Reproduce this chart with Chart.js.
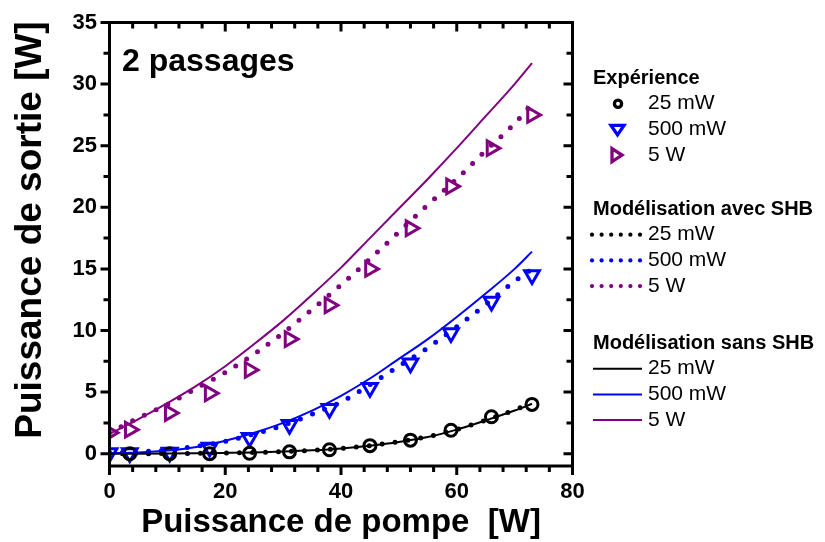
<!DOCTYPE html>
<html>
<head>
<meta charset="utf-8">
<script src="https://cdn.jsdelivr.net/npm/chart.js@4/dist/chart.umd.min.js"></script>
<style>
  body { margin: 0; background: #fff; }
  #wrap { width: 825px; height: 542px; }
</style>
</head>
<body>
<div id="wrap"><canvas id="myChart" width="825" height="542"></canvas></div>
<script>
// experimental points (pump power W -> output power W)
const xExp = [0, 3.5, 10.4, 17.3, 24.2, 31.1, 38, 45, 52, 59, 66, 73];
const exp25mW  = [null, 0.0, 0.0, 0.0, 0.03, 0.15, 0.32, 0.65, 1.1, 1.9, 3.0, 4.0];
const exp500mW = [0.05, 0.05, 0.1, 0.5, 1.3, 2.35, 3.65, 5.35, 7.35, 9.8, 12.35, 14.5];
const exp5W    = [1.7, 1.95, 3.3, 4.9, 6.8, 9.3, 12.05, 15.0, 18.3, 21.7, 24.8, 27.5];

// model curves
const xModel = [0, 5, 10, 15, 20, 25, 30, 35, 40, 45, 50, 55, 60, 65, 70, 73];
const avec25mW  = [0, 0, 0.01, 0.03, 0.06, 0.1, 0.17, 0.28, 0.43, 0.66, 0.97, 1.38, 1.97, 2.72, 3.55, 4.1];
const avec500mW = [0.1, 0.15, 0.3, 0.6, 1.0, 1.6, 2.3, 3.2, 4.2, 5.6, 7.1, 8.6, 10.3, 12.1, 14.0, 15.0];
const avec5W    = [1.7, 2.9, 4.0, 5.3, 6.6, 8.1, 9.8, 11.7, 13.7, 15.8, 18.0, 20.2, 22.3, 24.6, 26.8, 28.4];
const sans25mW  = [0, 0, 0.01, 0.03, 0.06, 0.1, 0.17, 0.27, 0.42, 0.65, 0.95, 1.35, 1.95, 2.7, 3.5, 4.05];
const sans500mW = [0.05, 0.1, 0.25, 0.55, 1.05, 1.7, 2.5, 3.5, 4.7, 6.1, 7.7, 9.3, 11.1, 13.0, 15.0, 16.4];
const sans5W    = [1.6, 2.8, 4.1, 5.5, 7.1, 8.9, 10.8, 12.9, 15.1, 17.5, 19.9, 22.3, 24.8, 27.4, 30.0, 31.7];

const xTicks = [0, 20, 40, 60, 80];
const yTicks = [0, 5, 10, 15, 20, 25, 30, 35];
const seriesNames = ['25 mW', '500 mW', '5 W'];
const groupTitles = ['Expérience', 'Modélisation avec SHB', 'Modélisation sans SHB'];
const colors = ['#000000', '#0000ff', '#800080'];

function pts(xs, ys) {
  let out = [];
  for (let i = 0; i < xs.length; i++) {
    if (ys[i] !== null) out.push({x: xs[i], y: ys[i]});
  }
  return out;
}

function lineSet(xs, ys, color, dotted) {
  return {
    data: pts(xs, ys),
    borderColor: color,
    borderWidth: dotted ? 5 : 2,
    borderDash: dotted ? [0, 13] : [],
    borderCapStyle: dotted ? 'round' : 'butt',
    pointRadius: 0,
    cubicInterpolationMode: 'monotone',
    fill: false
  };
}

function markerSet(ys, color, style, rot) {
  return {
    data: pts(xExp, ys),
    showLine: false,
    pointStyle: style,
    pointRotation: rot,
    pointRadius: style === 'circle' ? 6 : 8.5,
    pointBorderWidth: 3,
    pointBorderColor: color,
    pointBackgroundColor: 'rgba(0,0,0,0)'
  };
}

const FONT = '"Liberation Sans", Arial, sans-serif';

// frame, ticks, titles and the legend
const decor = {
  id: 'decor',
  afterDraw(chart) {
    const c = chart.ctx;
    const xs = chart.scales.x, ys = chart.scales.y;
    const L = chart.chartArea.left, R = chart.chartArea.right;
    const T = chart.chartArea.top, B = chart.chartArea.bottom;
    c.save();
    c.strokeStyle = '#000';
    c.fillStyle = '#000';
    c.lineWidth = 3;
    c.strokeRect(L, T, R - L, B - T);

    // x ticks: bottom out, top in
    for (let v = 0; v <= 80; v += 4) {
      const px = xs.getPixelForValue(v);
      const len = v % 20 === 0 ? 9 : 6;
      c.beginPath();
      c.moveTo(px, B); c.lineTo(px, B + len);
      c.moveTo(px, T); c.lineTo(px, T + len);
      c.stroke();
    }
    // y ticks: left out, right in
    for (let v = 0; v <= 35; v += 2.5) {
      const py = ys.getPixelForValue(v);
      const len = v % 5 === 0 ? 9 : 6;
      c.beginPath();
      c.moveTo(L, py); c.lineTo(L - len, py);
      c.moveTo(R, py); c.lineTo(R - len, py);
      c.stroke();
    }

    c.font = 'bold 22px ' + FONT;
    c.textAlign = 'center';
    c.textBaseline = 'middle';
    xTicks.forEach(v => c.fillText(String(v), xs.getPixelForValue(v), 492));
    c.textAlign = 'right';
    yTicks.forEach(v => c.fillText(String(v), 97, ys.getPixelForValue(v)));

    // axis titles
    c.font = 'bold 33px ' + FONT;
    c.textAlign = 'center';
    c.textBaseline = 'alphabetic';
    c.fillText('Puissance de pompe  [W]', 341, 532);
    c.save();
    c.translate(41, 230);
    c.rotate(-Math.PI / 2);
    c.font = 'bold 37px ' + FONT;
    c.fillText('Puissance de sortie [W]', 0, 0);
    c.restore();

    c.font = 'bold 32px ' + FONT;
    c.textAlign = 'left';
    c.fillText('2 passages', 122, 71);

    // legend
    const groupY = [78, 209, 343];
    const step = 25.7;
    c.textBaseline = 'middle';
    for (let g = 0; g < 3; g++) {
      c.font = 'bold 20px ' + FONT;
      c.fillStyle = '#000';
      c.fillText(groupTitles[g], 593, groupY[g]);
      for (let s = 0; s < 3; s++) {
        const y = groupY[g] + step * (s + 1);
        c.strokeStyle = colors[s];
        c.fillStyle = colors[s];
        if (g === 0) {
          c.lineWidth = 3.3;
          c.lineJoin = 'miter';
          c.beginPath();
          if (s === 0) {
            c.arc(618, y, 3.6, 0, Math.PI * 2);
          } else if (s === 1) {
            c.moveTo(611, y - 4); c.lineTo(624, y - 4); c.lineTo(617.5, y + 5.5); c.closePath();
          } else {
            c.moveTo(612, y - 6.5); c.lineTo(622, y); c.lineTo(612, y + 6.5); c.closePath();
          }
          c.stroke();
        } else if (g === 1) {
          for (let k = 0; k < 6; k++) {
            c.beginPath();
            c.arc(592 + k * 9.6, y, 2.1, 0, Math.PI * 2);
            c.fill();
          }
        } else {
          c.lineWidth = 2;
          c.beginPath();
          c.moveTo(593, y); c.lineTo(642, y);
          c.stroke();
        }
        c.font = '21px ' + FONT;
        c.fillStyle = '#000';
        c.fillText(seriesNames[s], 648, y);
      }
    }
    c.restore();
  }
};

const ctx = document.getElementById('myChart');

new Chart(ctx, {
  type: 'line',
  data: {
    datasets: [
      lineSet(xModel, sans25mW, colors[0], false),
      lineSet(xModel, sans500mW, colors[1], false),
      lineSet(xModel, sans5W, colors[2], false),
      lineSet(xModel, avec25mW, colors[0], true),
      lineSet(xModel, avec500mW, colors[1], true),
      lineSet(xModel, avec5W, colors[2], true),
      markerSet(exp25mW, colors[0], 'circle', 0),
      markerSet(exp500mW, colors[1], 'triangle', 180),
      markerSet(exp5W, colors[2], 'triangle', 90)
    ]
  },
  options: {
    responsive: false,
    animation: false,
    layout: { padding: { left: 109.5, right: 252.5, top: 22.5, bottom: 76 } },
    plugins: {
      legend: { display: false },
      tooltip: { enabled: false }
    },
    scales: {
      x: { type: 'linear', min: 0, max: 80, display: false },
      y: { type: 'linear', min: -1, max: 35, display: false }
    }
  },
  plugins: [decor]
});
</script>
</body>
</html>
